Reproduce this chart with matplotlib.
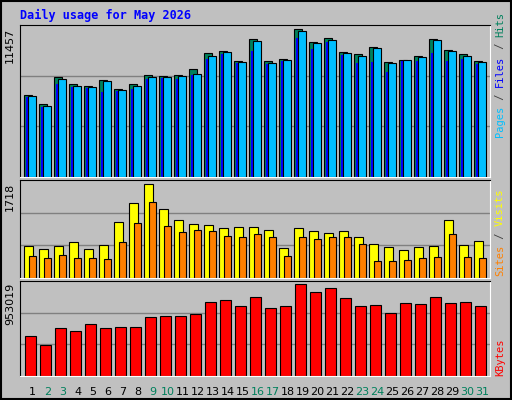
import numpy as np
import matplotlib.pyplot as plt

days = np.arange(1, 32)
weekend = [2, 3, 9, 10, 16, 17, 23, 24, 30, 31]

# tops (in zoom px), converted to values below
hits_px = [285, 310, 231, 253, 258, 240, 267, 253, 226, 229, 226, 207, 159, 153, 183, 117,
           183, 177, 87, 126, 114, 156, 162, 141, 186, 180, 168, 117, 150, 162, 183]
files_px = [289, 318, 237, 259, 261, 243, 270, 259, 231, 231, 229, 222, 168, 156, 186, 123,
            189, 180, 93, 129, 120, 159, 168, 144, 189, 180, 171, 120, 153, 168, 186]
pages_px = [292, 320, 252, 261, 264, 276, 273, 267, 238, 234, 238, 225, 177, 162, 189, 153,
            192, 183, 114, 147, 126, 165, 189, 186, 216, 183, 183, 159, 183, 177, 192]
sites_px = [211, 220, 211, 199, 220, 208, 139, 85, 28, 103, 136, 145, 148, 157, 154, 154,
            163, 217, 157, 166, 172, 166, 184, 205, 214, 223, 214, 211, 136, 208, 196]
visits_px = [241, 247, 238, 247, 247, 250, 199, 142, 82, 151, 169, 163, 166, 181, 184, 175,
             184, 241, 184, 190, 184, 184, 205, 256, 256, 253, 247, 244, 175, 244, 247]
kbytes_px = [481, 508, 457, 466, 445, 457, 454, 454, 424, 421, 421, 415, 379, 373, 391, 364,
             397, 391, 327, 349, 337, 367, 391, 388, 412, 382, 385, 364, 382, 379, 391]

hits = [(530 - p) / 443 * 11457 for p in hits_px]
files = [(530 - p) / 443 * 11457 for p in files_px]
pages = [(530 - p) / 443 * 11457 for p in pages_px]
sites = [(305 - p) / 277 * 1718 for p in sites_px]
visits = [(305 - p) / 277 * 1718 for p in visits_px]
kbytes = [(602 - p) / 275 * 953019 for p in kbytes_px]

BG = "#c0c0c0"
fig = plt.figure(figsize=(5.12, 4.0), dpi=100, facecolor=BG)
mono = "DejaVu Sans Mono"

def panel(rect, ymax):
    ax = fig.add_axes(rect, facecolor=BG)
    ax.set_xlim(0.16, 31.49)
    ax.set_ylim(0, ymax)
    for f in (1/3, 2/3):
        ax.axhline(ymax * f, color="#808080", lw=1, zorder=0)
    ax.set_xticks([]); ax.set_yticks([])
    for s in ax.spines.values():
        s.set_color("black")
    ax.spines["right"].set_color("white")
    ax.spines["bottom"].set_color("white")
    return ax

kw = dict(align="edge", edgecolor="black", linewidth=0.8)
ax1 = panel([20/512, 1 - 177/400, 470/512, 152/400], 11457 * 455 / 443)
ax1.bar(days - 0.55, hits, width=0.5, color="#00805c", **kw)
ax1.bar(days - 0.31, files, width=0.53, color="#00bfff", **kw, zorder=3)
ax1.bar(days - 0.42, pages, width=0.13, color="#0000ff", align="edge", linewidth=0, zorder=2)

ax2 = panel([20/512, 1 - 278/400, 470/512, 98/400], 1718 * 288 / 277)
ax2.bar(days - 0.55, sites, width=0.6, color="#ffff00", **kw)
ax2.bar(days - 0.26, visits, width=0.5, color="#ff8000", **kw)

ax3 = panel([20/512, 1 - 376/400, 470/512, 95/400], 953019 * 285 / 275)
ax3.bar(days - 0.49, kbytes, width=0.7, color="#ff0000", **kw)

for d in days:
    ax3.text(d, -0.12, str(d), transform=ax3.get_xaxis_transform(), ha="center", va="top",
             fontsize=8, family="DejaVu Sans", color="#00805c" if d in weekend else "black")

fig.text(20/512, 1 - 15/400, "Daily usage for May 2026", color="#0000ff", fontsize=8.5,
         weight="bold", family=mono, va="center")
fig.text(10/512, 1 - 28/400, "11457", rotation=90, fontsize=8, family="DejaVu Sans", ha="center", va="top")
fig.text(10/512, 1 - 183/400, "1718", rotation=90, fontsize=8, family="DejaVu Sans", ha="center", va="top")
fig.text(10/512, 1 - 283/400, "953019", rotation=90, fontsize=8, family="DejaVu Sans", ha="center", va="top")

FS = 7.5
CH = 0.602 * FS / 72 * 100 / 400  # char advance as figure fraction

def right_label(parts, ybottom):
    y = ybottom
    for txt, col in parts:
        fig.text(500/512, y, txt, rotation=90, color=col, fontsize=FS, family=mono,
                 ha="center", va="bottom")
        y += len(txt) * CH

right_label([("Pages", "#00bfff"), (" / ", "#404040"), ("Files", "#0000ff"), (" / ", "#404040"),
             ("Hits", "#00805c")], 1 - 137/400)
right_label([("Sites", "#ff8000"), (" / ", "#404040"), ("Visits", "#ffff00")], 1 - 276/400)
right_label([("KBytes", "#ff0000")], 1 - 376/400)

fig.patches.append(plt.Rectangle((0.002, 0.002), 0.996, 0.996, transform=fig.transFigure,
                                 fill=False, edgecolor="black", lw=1.5))
fig.savefig("out.png", dpi=100, facecolor=BG)
